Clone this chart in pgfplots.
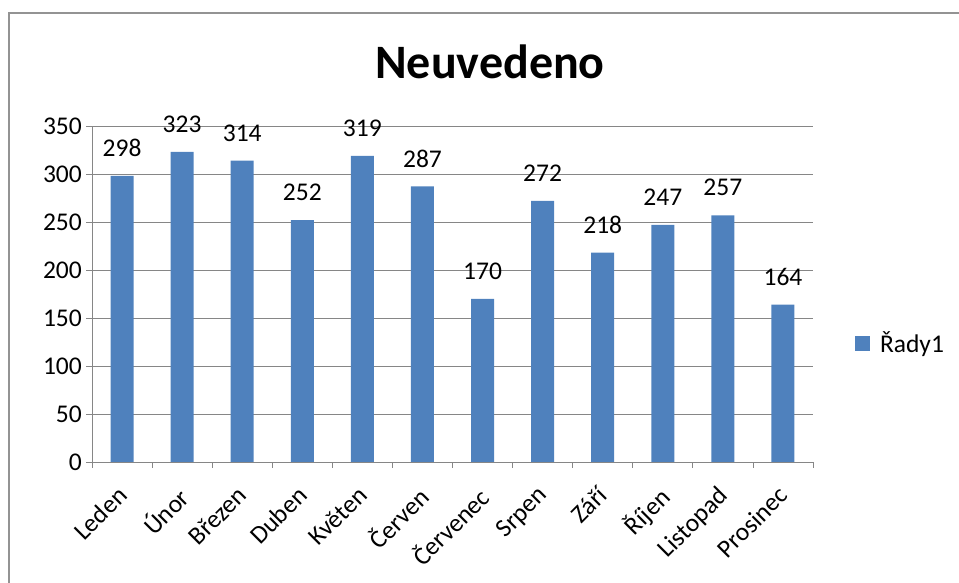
\documentclass[border=0pt]{standalone}
\usepackage{pgfplots}
\pgfplotsset{compat=1.18}
\usepackage{fontspec}
\setmainfont{Carlito}
\definecolor{barblue}{HTML}{4F81BD}
\definecolor{gridgray}{HTML}{868686}
\begin{document}
\begin{tikzpicture}
\useasboundingbox (0pt,0pt) rectangle (959pt,583pt);
\begin{scope}
\clip (0pt,0pt) rectangle (959pt,583pt);
\draw[color=gray!85, line width=2pt] (8.5pt,-10pt) -- (8.5pt,570pt) -- (980pt,570pt);
\end{scope}
\node[font=\fontsize{48}{54}\selectfont\bfseries, anchor=base] at (490pt,504pt) {Neuvedeno};
\begin{axis}[
  at={(92pt,121pt)}, anchor=south west,
  scale only axis, width=721pt, height=336pt,
  xmin=-0.5, xmax=11.5, ymin=0, ymax=350,
  ytick={0,50,...,350},
  xtick={0,...,11},
  xticklabels={Leden,Únor,Březen,Duben,Květen,Červen,Červenec,Srpen,Září,Říjen,Listopad,Prosinec},
  minor xtick={-0.5,0.5,...,11.5},
  major x tick style={draw=none},
  minor x tick style={draw=gridgray, line width=0.8pt},
  y tick style={draw=gridgray, line width=0.8pt},
  tick align=outside,
  major tick length=6pt, minor tick length=6pt,
  axis x line*=bottom, axis y line*=left,
  axis line style={draw=gridgray, line width=0.8pt, -},
  ymajorgrids, grid style={draw=gridgray, line width=0.8pt},
  tick label style={font=\fontsize{25.5}{30}\selectfont},
  /pgf/number format/assume math mode=true,
  xticklabel style={xshift=-6pt, yshift=-15pt, rotate=45, anchor=north east, inner sep=1pt},
  yticklabel style={inner sep=2pt, xshift=-2pt},
  ybar, bar width=23pt,
  nodes near coords,
  nodes near coords style={font=\fontsize{25.5}{30}\selectfont, anchor=south, inner sep=0pt, yshift=19pt, text=black},
  legend style={at={(1.058,0.354)}, anchor=west, draw=none, fill=none, font=\fontsize{25.5}{30}\selectfont, inner sep=0pt},
  legend image code/.code={\fill[barblue] (0pt,-7.5pt) rectangle (15pt,7.5pt); \path (23pt,0pt);},
]
\addplot[fill=barblue, draw=none] coordinates {
(0,298) (1,323) (2,314) (3,252) (4,319) (5,287) (6,170) (7,272) (8,218) (9,247) (10,257) (11,164)};
\addlegendentry{Řady1}
\end{axis}
\end{tikzpicture}
\end{document}
